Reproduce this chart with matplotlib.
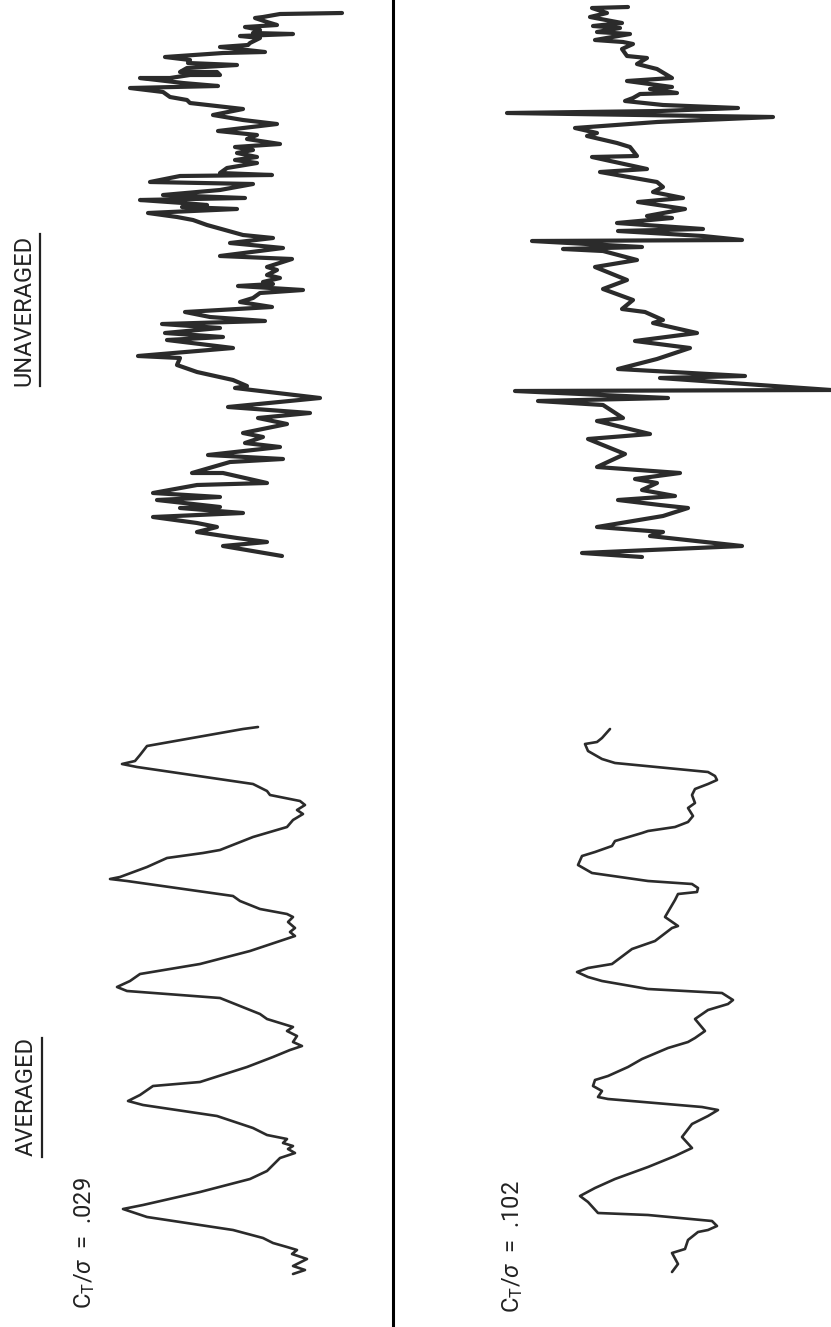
import matplotlib
matplotlib.use("Agg")
import matplotlib.pyplot as plt

plt.rcParams['font.family'] = ['Roboto', 'DejaVu Sans']
plt.rcParams['mathtext.fontset'] = 'custom'
plt.rcParams['mathtext.rm'] = 'Roboto'
plt.rcParams['mathtext.it'] = 'Roboto:italic'

# strip-chart records, traced along the paper: defl = pen deflection, t = chart travel
# C_T/sigma = .029, unaveraged
ua029_defl = [342, 280, 263, 255, 267, 277, 245, 260, 253, 293, 240, 260, 250, 248, 220, 265,
              223, 165, 190, 188, 237, 187, 180, 217, 220, 190, 170, 140, 183, 218, 130, 163,
              170, 187, 190, 243, 213, 243, 277, 218, 257, 247, 280, 235, 253, 237, 257, 235,
              257, 227, 220, 272, 180, 150, 253, 220, 163, 245, 140, 183, 207, 182, 237, 148,
              177, 193, 207, 243, 273, 230, 283, 220, 292, 267, 277, 267, 280, 263, 273, 238,
              303, 260, 253, 240, 272, 185, 210, 265, 162, 220, 165, 223, 167, 233, 138, 180,
              177, 197, 233, 247, 235, 320, 228, 310, 258, 287, 243, 263, 245, 280, 208, 283,
              230, 192, 223, 267, 197, 153, 220, 157, 220, 180, 243, 153, 197, 217, 197, 237,
              267, 223, 282]
ua029_t = [13, 14, 17, 18, 22, 25, 27, 30, 33, 34, 36, 38, 43, 45, 47, 52,
           53, 57, 60, 63, 65, 68, 72, 72, 75, 75, 78, 78, 83, 86, 88, 92,
           97, 100, 103, 109, 115, 120, 124, 131, 135, 139, 144, 147, 150, 153, 157, 160,
           163, 168, 173, 175, 176, 182, 184, 190, 195, 198, 200, 203, 205, 207, 209, 213,
           217, 220, 225, 235, 238, 243, 248, 256, 259, 267, 270, 275, 278, 282, 284, 286,
           290, 293, 298, 302, 307, 312, 317, 321, 324, 328, 333, 337, 340, 348, 356, 358,
           365, 372, 380, 386, 388, 398, 407, 413, 418, 424, 433, 437, 443, 447, 455, 459,
           462, 473, 473, 483, 485, 493, 497, 500, 507, 508, 513, 517, 523, 527, 532, 538,
           542, 546, 556]

# C_T/sigma = .029, averaged
av029_defl = [258, 243, 147, 140, 135, 122, 137, 253, 267, 270,
              300, 305, 297, 303, 293, 287, 253, 220, 203, 167,
              147, 120, 110, 127, 233, 240, 260, 287, 293, 288,
              295, 290, 295, 283, 250, 200, 140, 130, 117, 127,
              220, 260, 267, 293, 287, 297, 293, 302, 290, 273,
              247, 200, 153, 140, 128, 143, 217, 253, 267, 287,
              283, 293, 288, 295, 280, 267, 250, 200, 143, 123,
              147, 233, 263, 273, 287, 297, 292, 307, 293, 305,
              293]
av029_t = [727, 729, 746, 755, 761, 764, 767, 784, 791, 795,
           801, 805, 810, 814, 820, 827, 837, 850, 853, 858,
           867, 877, 879, 881, 896, 901, 909, 914, 917, 922,
           928, 932, 936, 940, 951, 964, 974, 981, 987, 991,
           998, 1014, 1019, 1027, 1031, 1036, 1042, 1046, 1050, 1057,
           1067, 1082, 1086, 1095, 1101, 1105, 1116, 1128, 1135, 1139,
           1143, 1146, 1149, 1153, 1158, 1171, 1179, 1192, 1205, 1209,
           1217, 1230, 1238, 1243, 1247, 1250, 1254, 1259, 1266, 1270,
           1274]

# C_T/sigma = .102, unaveraged
ua102_defl = [628, 592, 607, 590, 622, 593, 620, 597, 630, 595, 623, 633, 622, 627, 647, 637,
              657, 672, 627, 672, 650, 677, 640, 633, 625, 663, 738, 660, 507, 773, 657, 575,
              597, 587, 617, 630, 637, 592, 647, 600, 657, 663, 653, 683, 638, 685, 647, 672,
              617, 703, 618, 703, 742, 532, 642, 563, 603, 637, 595, 627, 603, 633, 622, 645,
              663, 653, 697, 635, 690, 672, 657, 618, 745, 660, 831, 515, 668, 538, 603, 623,
              597, 650, 588, 625, 597, 680, 635, 657, 642, 675, 618, 660, 688, 663, 597, 663,
              650, 742, 582, 642]
ua102_t = [7, 8, 13, 17, 23, 26, 28, 32, 34, 40, 42, 44, 49, 56, 58, 64,
           69, 78, 81, 87, 89, 93, 94, 98, 101, 105, 108, 111, 113, 117, 122, 128,
           133, 136, 143, 147, 156, 157, 169, 172, 182, 187, 192, 198, 202, 209, 216, 218,
           223, 229, 231, 236, 240, 241, 247, 249, 251, 260, 267, 280, 289, 300, 309, 312,
           320, 323, 333, 341, 348, 354, 359, 369, 376, 378, 390, 391, 398, 401, 405, 418,
           421, 434, 439, 454, 467, 473, 479, 483, 490, 496, 500, 505, 508, 516, 527, 532,
           536, 546, 553, 557]

# C_T/sigma = .102, averaged
av102_defl = [610, 602, 597, 585, 588, 595, 602, 615, 708, 715, 717, 708, 695, 692, 695, 688,
              693, 688, 675, 648, 642, 615, 612, 595, 582, 578, 585, 592, 648, 692, 698, 697,
              678, 675, 665, 678, 672, 655, 632, 612, 588, 577, 588, 602, 648, 722, 733, 728,
              708, 695, 705, 695, 688, 668, 642, 628, 608, 595, 593, 602, 598, 608, 702, 718,
              708, 692, 682, 692, 675, 648, 615, 595, 580, 588, 598, 648, 712, 717, 708, 698,
              688, 685, 672, 678, 672]
av102_t = [729, 738, 742, 744, 751, 755, 759, 763, 772, 776, 780, 784, 789, 795, 803, 808,
           816, 822, 827, 831, 833, 841, 846, 852, 856, 865, 869, 873, 881, 884, 888, 892,
           894, 900, 917, 926, 928, 941, 949, 964, 968, 972, 977, 981, 989, 993, 1000, 1004,
           1010, 1019, 1031, 1038, 1042, 1048, 1059, 1067, 1076, 1080, 1086, 1091, 1097, 1099, 1107, 1110,
           1116, 1124, 1137, 1148, 1156, 1167, 1179, 1188, 1196, 1202, 1213, 1215, 1221, 1226, 1230, 1232,
           1240, 1249, 1253, 1264, 1272]

ink = '#2b2b2b'

fig = plt.figure(figsize=(8.31, 13.27), dpi=100)
ax = fig.add_axes([0, 0, 1, 1])
ax.set_xlim(0, 831)
ax.set_ylim(1327, 0)
ax.axis('off')

# noisy records are drawn with a heavier pen
ax.plot(ua029_defl, ua029_t, color=ink, lw=3.0, solid_joinstyle='round', solid_capstyle='round')
ax.plot(ua102_defl, ua102_t, color=ink, lw=3.0, solid_joinstyle='round', solid_capstyle='round')
ax.plot(av029_defl, av029_t, color=ink, lw=1.9, solid_joinstyle='round', solid_capstyle='round')
ax.plot(av102_defl, av102_t, color=ink, lw=1.9, solid_joinstyle='round', solid_capstyle='round')

# separator between the two thrust levels
ax.axvline(393, color='black', lw=2.2)

lab = dict(rotation=90, ha='center', va='center', fontsize=17, color='#222222')
headers = [ax.text(24, 310, 'UNAVERAGED', **lab),
           ax.text(26, 1097, 'AVERAGED', **lab)]
ax.text(85, 1243, r'C$_\mathrm{T}$/$\sigma$  =  .029', **lab)
ax.text(513, 1247, r'C$_\mathrm{T}$/$\sigma$  =  .102', **lab)

# underline the column headers on their baseline side
fig.canvas.draw()
inv = ax.transData.inverted()
for h in headers:
    bb = h.get_window_extent().transformed(inv)
    ax.plot([bb.x1 + 4, bb.x1 + 4], [bb.y0, bb.y1], color='#222222', lw=1.6)

fig.savefig('out.png', dpi=100, facecolor='white')
